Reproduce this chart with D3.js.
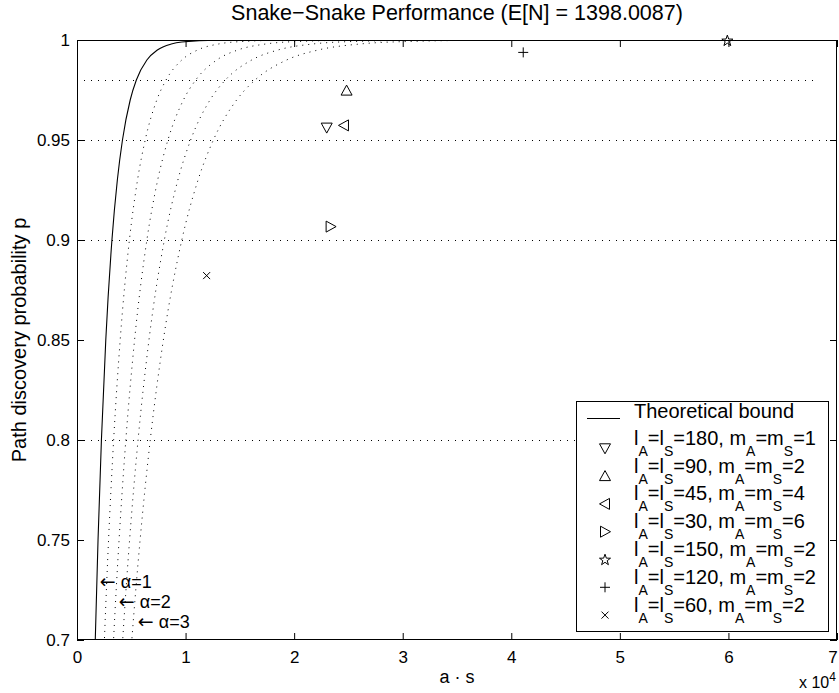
<!DOCTYPE html>
<html><head><meta charset="utf-8">
<script src="https://cdn.jsdelivr.net/npm/d3@7"></script>
<style>
body{margin:0;background:#fff;}
text{font-family:"Liberation Sans",Arial,Helvetica,sans-serif;fill:#000;}
</style></head>
<body><svg id="chart" width="839" height="693"></svg>
<script>
// ---- data ----
const titleText = "Snake\u2212Snake Performance (E[N] = 1398.0087)";
const xTicks = [0,1,2,3,4,5,6,7];
const yTicks = [0.7,0.75,0.8,0.85,0.9,0.95,1];
const yTickLabels = ["0.7","0.75","0.8","0.85","0.9","0.95","1"];
const refLevels = [0.98,0.95,0.9,0.8];
const refEnds = [6.83,7,7,7];
// curve samples (a·s in 1e4, p)
const curveP = [0.65,0.70,0.75,0.80,0.85,0.90,0.93,0.95,0.97,0.98,0.99,0.995,0.998,0.999,0.9999,1.0];
const boundX  = [0.1467,0.1683,0.1937,0.2249,0.2651,0.3218,0.3716,0.4187,0.4900,0.5467,0.6436,0.7404,0.8685,0.9654,1.287,7];
const alpha15X = [0.2201,0.2525,0.2906,0.3374,0.3977,0.4827,0.5574,0.6281,0.7350,0.8201,0.9654,1.1106,1.3028,1.4481,1.9305,7];
const alpha2X  = [0.2934,0.3366,0.3874,0.4498,0.5302,0.6436,0.7432,0.8374,0.9800,1.0934,1.2872,1.4808,1.7370,1.9308,2.574,7];
const alpha25X = [0.3668,0.4208,0.4843,0.5623,0.6628,0.8045,0.9290,1.0468,1.2250,1.3668,1.6090,1.8510,2.1713,2.4135,3.2175,7];
const alpha3X  = [0.4401,0.5049,0.5811,0.6747,0.7953,0.9654,1.1148,1.2561,1.4700,1.6401,1.9308,2.2212,2.6055,2.8962,3.861,7];
// measured points
const seriesL = [180,90,45,30,150,120,60];
const seriesM = [1,2,4,6,2,2,2];
const seriesSym = ["down","up","left","right","star","plus","cross"];
const seriesX = [2.30,2.483,2.459,2.336,5.99,4.11,1.194];
const seriesP = [0.9562,0.9747,0.9573,0.9067,0.9998,0.9938,0.8822];
// alpha annotations
const alphaArrow = "\u2190";
const alphaLabels = ["\u03b1=1","\u03b1=2","\u03b1=3"];
const alphaLabelX = [0.21,0.385,0.56];
const alphaLabelP = [0.726,0.716,0.706];

// ---- layout ----
const W=839,H=693;
const m={left:77,top:40,right:2,bottom:53};
const svg=d3.select("#chart");
const x=d3.scaleLinear().domain([0,7]).range([m.left,W-m.right]);
const y=d3.scaleLinear().domain([0.7,1]).range([H-m.bottom,m.top]);

svg.append("defs").append("clipPath").attr("id","clip")
  .append("rect").attr("x",x(0)).attr("y",y(1)).attr("width",x(7)-x(0)).attr("height",y(0.7)-y(1));

const plot=svg.append("g").attr("clip-path","url(#clip)");

// reference dotted lines
plot.selectAll("line.ref").data(refLevels).enter().append("line")
  .attr("x1",x(0)).attr("x2",(d,i)=>x(refEnds[i])).attr("y1",d=>y(d)+0.5).attr("y2",d=>y(d)+0.5)
  .attr("stroke","#000").attr("stroke-width",1).attr("stroke-dasharray","1 6");

const line=d3.line().x(d=>x(d[0])).y(d=>y(d[1])).curve(d3.curveMonotoneX);
const dotted=[alpha15X,alpha2X,alpha25X,alpha3X];
dotted.forEach(arr=>{
  plot.append("path").datum(arr.map((v,i)=>[v,curveP[i]])).attr("d",line)
   .attr("fill","none").attr("stroke","#000").attr("stroke-width",1).attr("stroke-dasharray","1 5");
});
plot.append("path").datum(boundX.map((v,i)=>[v,curveP[i]])).attr("d",line)
  .attr("fill","none").attr("stroke","#000").attr("stroke-width",1.1);

// markers
function symPath(s){
  switch(s){
    case "down": return "M-5.5,-4.5L5.5,-4.5L0,5.5Z";
    case "up": return "M-5.5,4.5L5.5,4.5L0,-5.5Z";
    case "left": return "M4.5,-5.5L4.5,5.5L-5.5,0Z";
    case "right": return "M-4.5,-5.5L-4.5,5.5L5.5,0Z";
    case "star": {
      let p="";for(let k=0;k<10;k++){const r=k%2?2.3:5.8;const a=-Math.PI/2+k*Math.PI/5;p+=(k?"L":"M")+(r*Math.cos(a)).toFixed(2)+","+(r*Math.sin(a)+0.5).toFixed(2);}return p+"Z";}
    case "plus": return "M-5,0H5M0,-5V5";
    case "cross": return "M-3.5,-3.5L3.5,3.5M-3.5,3.5L3.5,-3.5";
  }
}
svg.selectAll("path.mk").data(seriesX).enter().append("path").attr("class","mk")
  .attr("transform",(d,i)=>`translate(${x(d)},${y(seriesP[i])})`)
  .attr("d",(d,i)=>symPath(seriesSym[i])).attr("fill","none").attr("stroke","#000").attr("stroke-width",1);

// frame & ticks
const g=svg.append("g");
g.append("rect").attr("x",x(0)+0.5).attr("y",y(1)+0.5).attr("width",x(7)-x(0)-1).attr("height",y(0.7)-y(1)-1)
  .attr("fill","none").attr("stroke","#000").attr("stroke-width",1);
const tl=7;
xTicks.forEach(t=>{
  g.append("line").attr("x1",x(t)+0.5).attr("x2",x(t)+0.5).attr("y1",y(0.7)).attr("y2",y(0.7)-tl).attr("stroke","#000");
  g.append("line").attr("x1",x(t)+0.5).attr("x2",x(t)+0.5).attr("y1",y(1)).attr("y2",y(1)+tl).attr("stroke","#000");
  g.append("text").attr("x",Math.min(x(t)+0.5,833)).attr("y",663).attr("text-anchor","middle").attr("font-size",17).text(t);
});
yTicks.forEach((t,i)=>{
  g.append("line").attr("x1",x(0)).attr("x2",x(0)+tl).attr("y1",y(t)+0.5).attr("y2",y(t)+0.5).attr("stroke","#000");
  g.append("line").attr("x1",x(7)).attr("x2",x(7)-tl).attr("y1",y(t)+0.5).attr("y2",y(t)+0.5).attr("stroke","#000");
  g.append("text").attr("x",70).attr("y",y(t)+6).attr("text-anchor","end").attr("font-size",17).text(yTickLabels[i]);
});

// alpha annotations
const al=svg.selectAll("text.al").data(alphaLabels).enter().append("text").attr("class","al")
  .attr("x",(d,i)=>x(alphaLabelX[i])).attr("y",(d,i)=>y(alphaLabelP[i])).attr("font-size",18);
al.append("tspan").attr("font-family","'DejaVu Sans',sans-serif").attr("font-size",19).text(alphaArrow);
al.append("tspan").attr("dx",5).text(d=>d);

// titles
svg.append("text").attr("x",(x(0)+x(7))/2).attr("y",20).attr("text-anchor","middle").attr("font-size",21.5).text(titleText);
svg.append("text").attr("x",(x(0)+x(7))/2).attr("y",683).attr("text-anchor","middle").attr("font-size",18).text("a \u00b7 s");
svg.append("text").attr("transform","translate(26,340) rotate(-90)").attr("text-anchor","middle").attr("font-size",20).text("Path discovery probability p");
const ex=svg.append("text").attr("x",799).attr("y",688).attr("font-size",16);
ex.append("tspan").text("x 10");
ex.append("tspan").attr("dy",-7).attr("font-size",12).text("4");

// legend
const lg=svg.append("g");
lg.append("rect").attr("x",576.5).attr("y",401.5).attr("width",252).attr("height",230).attr("fill","#fff").attr("stroke","#000");
lg.append("line").attr("x1",587).attr("x2",620).attr("y1",418.5).attr("y2",418.5).attr("stroke","#000");
lg.append("text").attr("x",634).attr("y",418).attr("font-size",20).text("Theoretical bound");
const rowY=i=>448.3+27.8*i;
seriesSym.forEach((s,i)=>{
  lg.append("path").attr("transform",`translate(605,${rowY(i)})`).attr("d",symPath(s)).attr("fill","none").attr("stroke","#000");
  const t=lg.append("text").attr("x",634).attr("y",rowY(i)-3.5).attr("font-size",20);
  const parts=[["l",0],["A",1],["=l",0],["S",1],["="+seriesL[i]+", m",0],["A",1],["=m",0],["S",1],["="+seriesM[i],0]];
  let prevSub=false;
  parts.forEach(([txt,sub])=>{
    const ts=t.append("tspan").text(txt);
    if(sub){ts.attr("font-size",14).attr("dy",prevSub?0:11);}
    else{ts.attr("dy",prevSub?-11:0);}
    prevSub=!!sub;
  });
});
</script></body></html>
